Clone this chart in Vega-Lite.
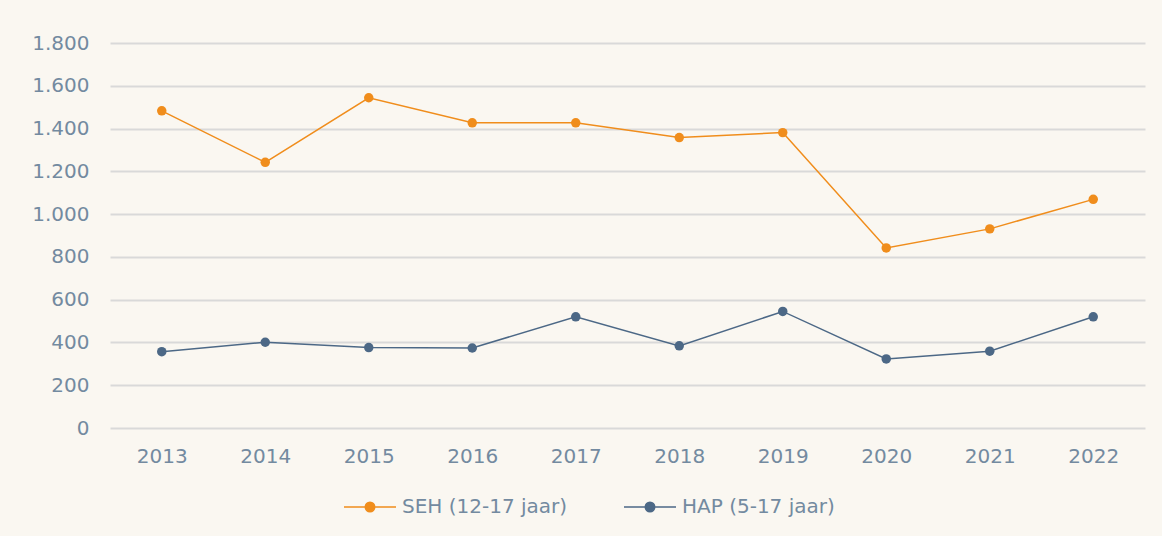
{
  "$schema": "https://vega.github.io/schema/vega-lite/v6.json",
  "width": 1035,
  "height": 385,
  "autosize": {"type": "none"},
  "padding": {"left": 110, "top": 43, "right": 17, "bottom": 108},
  "background": "#FAF7F1",
  "config": {
    "view": {"stroke": null},
    "locale": {"number": {"decimal": ",", "thousands": ".", "grouping": [3], "currency": ["€", ""]}},
    "font": "DejaVu Sans",
    "axis": {"labelFont": "DejaVu Sans", "labelFontWeight": "normal", "labelFontSize": 20, "labelColor": "#738AA0"}
  },
  "data": {
    "values": [
      {"jaar": "2013", "reeks": "SEH (12-17 jaar)", "aantal": 1483},
      {"jaar": "2014", "reeks": "SEH (12-17 jaar)", "aantal": 1242},
      {"jaar": "2015", "reeks": "SEH (12-17 jaar)", "aantal": 1544},
      {"jaar": "2016", "reeks": "SEH (12-17 jaar)", "aantal": 1427},
      {"jaar": "2017", "reeks": "SEH (12-17 jaar)", "aantal": 1427},
      {"jaar": "2018", "reeks": "SEH (12-17 jaar)", "aantal": 1358},
      {"jaar": "2019", "reeks": "SEH (12-17 jaar)", "aantal": 1381},
      {"jaar": "2020", "reeks": "SEH (12-17 jaar)", "aantal": 842},
      {"jaar": "2021", "reeks": "SEH (12-17 jaar)", "aantal": 931},
      {"jaar": "2022", "reeks": "SEH (12-17 jaar)", "aantal": 1069},
      {"jaar": "2013", "reeks": "HAP (5-17 jaar)", "aantal": 357},
      {"jaar": "2014", "reeks": "HAP (5-17 jaar)", "aantal": 401},
      {"jaar": "2015", "reeks": "HAP (5-17 jaar)", "aantal": 376},
      {"jaar": "2016", "reeks": "HAP (5-17 jaar)", "aantal": 374},
      {"jaar": "2017", "reeks": "HAP (5-17 jaar)", "aantal": 520},
      {"jaar": "2018", "reeks": "HAP (5-17 jaar)", "aantal": 384},
      {"jaar": "2019", "reeks": "HAP (5-17 jaar)", "aantal": 545},
      {"jaar": "2020", "reeks": "HAP (5-17 jaar)", "aantal": 323},
      {"jaar": "2021", "reeks": "HAP (5-17 jaar)", "aantal": 359},
      {"jaar": "2022", "reeks": "HAP (5-17 jaar)", "aantal": 520}
    ]
  },
  "encoding": {
    "x": {
      "field": "jaar", "type": "ordinal",
      "scale": {"type": "point", "padding": 0.5},
      "axis": {"title": null, "labelAngle": 0, "domain": false, "ticks": false, "grid": false, "labelPadding": 18}
    },
    "y": {
      "field": "aantal", "type": "quantitative",
      "scale": {"domain": [0, 1800], "nice": false},
      "axis": {"title": null, "values": [0, 200, 400, 600, 800, 1000, 1200, 1400, 1600, 1800], "format": ",d", "domain": false, "ticks": false, "gridColor": "#D9D9D9", "gridWidth": 2, "labelPadding": 21}
    },
    "color": {
      "field": "reeks", "type": "nominal",
      "scale": {"domain": ["SEH (12-17 jaar)", "HAP (5-17 jaar)"], "range": ["#F08D1C", "#4C6886"]},
      "legend": {
        "title": null,
        "orient": "none",
        "direction": "horizontal",
        "legendX": 233,
        "legendY": 437,
        "symbolType": "M-1,0H1M-0.18,0A0.18,0.18 0 1,0 0.18,0A0.18,0.18 0 1,0 -0.18,0Z",
        "symbolSize": 2704,
        "symbolStrokeWidth": 1.6,
        "labelFont": "DejaVu Sans",
        "labelFontWeight": "normal",
        "labelFontSize": 20,
        "labelColor": "#738AA0",
        "labelOffset": 5,
        "labelLimit": 400,
        "columnPadding": 52,
        "encode": {"symbols": {"update": {"fill": {"scale": "color", "field": "value"}, "stroke": {"scale": "color", "field": "value"}}}}
      }
    }
  },
  "layer": [
    {"mark": {"type": "line", "strokeWidth": 1.5}},
    {"mark": {"type": "point", "filled": true, "size": 90, "opacity": 1}}
  ]
}
